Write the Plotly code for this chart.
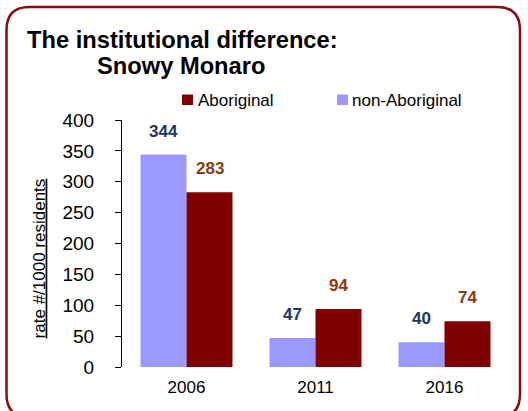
import plotly.graph_objects as go

years = ["2006", "2011", "2016"]
aboriginal = [283, 94, 74]
non_aboriginal = [344, 47, 40]
series_names = ["Aboriginal", "non-Aboriginal"]
y_ticks = [0, 50, 100, 150, 200, 250, 300, 350, 400]

W, H = 528, 411
L, R, T, B = 122, 19, 119.5, 44.3
PW = W - L - R
PH = H - T - B

def px_x(px):
    return (px - L) / PW

def px_y(py):
    return (H - B - py) / PH

C_AB = "#800000"
C_NON = "#9999FF"
C_NAVY = "#1B3669"
C_BROWN = "#8B3A10"
FONT = "Liberation Sans"

fig = go.Figure()
fig.add_trace(go.Bar(x=years, y=non_aboriginal, name=series_names[1],
                     marker=dict(color=C_NON, line=dict(width=0)), showlegend=False))
fig.add_trace(go.Bar(x=years, y=aboriginal, name=series_names[0],
                     marker=dict(color=C_AB, line=dict(width=0)), showlegend=False))

annotations = []
for i, v in enumerate(non_aboriginal):
    annotations.append(dict(x=i, y=v, xref="x", yref="y", xshift=-23, yshift=12,
                            yanchor="bottom", showarrow=False, text=f"<b>{v}</b>",
                            font=dict(family=FONT, size=17, color=C_NAVY)))
for i, v in enumerate(aboriginal):
    annotations.append(dict(x=i, y=v, xref="x", yref="y", xshift=23, yshift=12,
                            yanchor="bottom", showarrow=False, text=f"<b>{v}</b>",
                            font=dict(family=FONT, size=17, color=C_BROWN)))

# Title lines
annotations.append(dict(x=px_x(25), y=px_y(39), xref="paper", yref="paper", xanchor="left",
                        yanchor="middle", showarrow=False,
                        text="<b>The institutional difference:</b>",
                        font=dict(family=FONT, size=23.7, color="black")))
annotations.append(dict(x=px_x(95), y=px_y(65), xref="paper", yref="paper", xanchor="left",
                        yanchor="middle", showarrow=False, text="<b>Snowy Monaro</b>",
                        font=dict(family=FONT, size=23.7, color="black")))

# Legend texts
annotations.append(dict(x=px_x(196), y=px_y(100), xref="paper", yref="paper", xanchor="left",
                        yanchor="middle", showarrow=False, text=series_names[0],
                        font=dict(family=FONT, size=17, color="black")))
annotations.append(dict(x=px_x(350), y=px_y(100), xref="paper", yref="paper", xanchor="left",
                        yanchor="middle", showarrow=False, text=series_names[1],
                        font=dict(family=FONT, size=17, color="black")))

# Y axis title
annotations.append(dict(x=px_x(39), y=px_y(258), xref="paper", yref="paper", xanchor="center",
                        yanchor="middle", showarrow=False, textangle=-90,
                        text="<u>rate #/1000 residents</u>",
                        font=dict(family=FONT, size=17, color="black")))

shapes = [
    dict(type="rect", xref="paper", yref="paper", x0=px_x(182), x1=px_x(193),
         y0=px_y(94), y1=px_y(104.5), fillcolor=C_AB, line=dict(width=0)),
    dict(type="rect", xref="paper", yref="paper", x0=px_x(337), x1=px_x(348),
         y0=px_y(94), y1=px_y(104.5), fillcolor=C_NON, line=dict(width=0)),
]

# Rounded border
x0, x1, y0, y1, r = 6.5, 520, 6.5, 417, 23
def P(px, py):
    return f"{px_x(px):.5f},{px_y(py):.5f}"
path = (f"M {P(x0, y0 + r)} Q {P(x0, y0)} {P(x0 + r, y0)} L {P(x1 - r, y0)} "
        f"Q {P(x1, y0)} {P(x1, y0 + r)} L {P(x1, y1 - r)} Q {P(x1, y1)} {P(x1 - r, y1)} "
        f"L {P(x0 + r, y1)} Q {P(x0, y1)} {P(x0, y1 - r)} Z")
shapes.append(dict(type="path", xref="paper", yref="paper", path=path,
                   line=dict(color="#8B0A0A", width=2.5), fillcolor="rgba(0,0,0,0)"))

fig.update_layout(
    width=W, height=H,
    margin=dict(l=L, r=R, t=T, b=B, pad=0),
    paper_bgcolor="white", plot_bgcolor="white",
    barmode="group", bargap=0.287, bargroupgap=0,
    showlegend=False,
    annotations=annotations, shapes=shapes,
    xaxis=dict(type="category", range=[-0.5, 2.5], showline=False, ticks="", showgrid=False,
               zeroline=False,
               tickfont=dict(family=FONT, size=17, color="black"), ticklabelstandoff=8),
    yaxis=dict(range=[0, 400], tickvals=y_ticks, showline=True, linecolor="black", linewidth=1,
               ticks="outside", ticklen=6, tickcolor="black", showgrid=False, zeroline=False,
               tickfont=dict(family=FONT, size=19, color="black"), ticklabelstandoff=17),
)

fig.write_html("out.html",
               config={"displayModeBar": False},
               post_script="document.body.style.margin='0';document.body.style.overflow='hidden';")
